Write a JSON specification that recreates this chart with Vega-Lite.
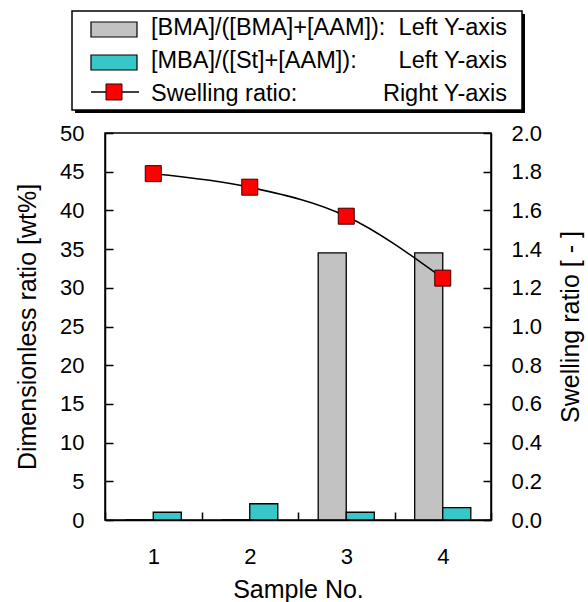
{
  "$schema": "https://vega.github.io/schema/vega-lite/v6.json",
  "padding": {"left": 14, "top": 10, "right": 0, "bottom": 0},
  "spacing": 8,
  "config": {
    "font": "Liberation Sans",
    "axis": {"labelFont": "Liberation Sans", "titleFont": "Liberation Sans", "labelColor": "black", "titleColor": "black", "domainColor": "black", "domainWidth": 1.5, "labelFontSize": 22, "titleFontSize": 25, "titleFontWeight": "normal", "grid": false},
    "text": {"font": "Liberation Sans"}
  },
  "datasets": {
    "bars": [
      {"sample": "1", "series": "BMA", "value": 0},
      {"sample": "1", "series": "MBA", "value": 1.0},
      {"sample": "2", "series": "BMA", "value": 0},
      {"sample": "2", "series": "MBA", "value": 2.1},
      {"sample": "3", "series": "BMA", "value": 34.5},
      {"sample": "3", "series": "MBA", "value": 1.0},
      {"sample": "4", "series": "BMA", "value": 34.5},
      {"sample": "4", "series": "MBA", "value": 1.6}
    ],
    "swelling": [
      {"sample": "1", "ratio": 1.79},
      {"sample": "2", "ratio": 1.72},
      {"sample": "3", "ratio": 1.57},
      {"sample": "4", "ratio": 1.25}
    ],
    "legend": [
      {"row": 1, "label": "[BMA]/([BMA]+[AAM]):", "note": "Left Y-axis"},
      {"row": 2, "label": "[MBA]/([St]+[AAM]):", "note": "Left Y-axis"},
      {"row": 3, "label": "Swelling ratio:", "note": "Right Y-axis"}
    ]
  },
  "vconcat": [
    {
      "width": 386,
      "height": 103,
      "view": {"stroke": null},
      "data": {"name": "legend"},
      "layer": [
        {
          "transform": [{"filter": "datum.row == 1"}],
          "mark": {"type": "rect", "fill": "black", "stroke": null},
          "encoding": {
            "x": {"datum": -7.77, "type": "quantitative", "scale": {"domain": [0, 100], "zero": false, "nice": false}, "axis": null},
            "x2": {"datum": 108.81},
            "y": {"datum": 0.576, "type": "quantitative", "scale": {"domain": [0.4545, 3.576], "reverse": true, "zero": false, "nice": false}, "axis": null},
            "y2": {"datum": 3.576}
          }
        },
        {
          "transform": [{"filter": "datum.row == 1"}],
          "mark": {"type": "rect", "fill": "white", "stroke": "black", "strokeWidth": 1.5},
          "encoding": {
            "x": {"datum": -8.55, "type": "quantitative"},
            "x2": {"datum": 108.03},
            "y": {"datum": 0.4848, "type": "quantitative"},
            "y2": {"datum": 3.485}
          }
        },
        {
          "mark": {"type": "text", "align": "left", "baseline": "middle", "fontSize": 23.5, "color": "black"},
          "encoding": {
            "x": {"datum": 11.92, "type": "quantitative"},
            "y": {"field": "row", "type": "quantitative"},
            "text": {"field": "label"}
          }
        },
        {
          "mark": {"type": "text", "align": "right", "baseline": "middle", "fontSize": 23.5, "color": "black"},
          "encoding": {
            "x": {"datum": 104.15, "type": "quantitative"},
            "y": {"field": "row", "type": "quantitative"},
            "text": {"field": "note"}
          }
        },
        {
          "transform": [{"filter": "datum.row == 1"}],
          "mark": {"type": "rect", "fill": "#c2c2c2", "stroke": "black", "strokeWidth": 1.2},
          "encoding": {
            "x": {"datum": -3.63, "type": "quantitative"},
            "x2": {"datum": 8.29},
            "y": {"datum": 0.818, "type": "quantitative"},
            "y2": {"datum": 1.273}
          }
        },
        {
          "transform": [{"filter": "datum.row == 2"}],
          "mark": {"type": "rect", "fill": "#36c8c8", "stroke": "black", "strokeWidth": 1.2},
          "encoding": {
            "x": {"datum": -3.63, "type": "quantitative"},
            "x2": {"datum": 8.29},
            "y": {"datum": 1.818, "type": "quantitative"},
            "y2": {"datum": 2.273}
          }
        },
        {
          "transform": [{"filter": "datum.row == 3"}],
          "mark": {"type": "rule", "color": "black", "strokeWidth": 1.5},
          "encoding": {
            "x": {"datum": -3.63, "type": "quantitative"},
            "x2": {"datum": 8.81},
            "y": {"datum": 2.939, "type": "quantitative"}
          }
        },
        {
          "transform": [{"filter": "datum.row == 3"}],
          "mark": {"type": "point", "shape": "square", "filled": true, "fill": "#ff0000", "stroke": "#3a0000", "strokeWidth": 1, "size": 256, "opacity": 1},
          "encoding": {
            "x": {"datum": 2.33, "type": "quantitative"},
            "y": {"datum": 2.939, "type": "quantitative"}
          }
        }
      ]
    },
    {
      "width": 386,
      "height": 387,
      "view": {"stroke": "black", "strokeWidth": 1.5},
      "layer": [
        {
          "data": {"name": "bars"},
          "mark": {"type": "bar", "stroke": "black", "strokeWidth": 1.3},
          "encoding": {
            "x": {"field": "sample", "type": "nominal", "scale": {"paddingInner": 0, "paddingOuter": 0},
                  "axis": {"title": "Sample No.", "labelAngle": 0, "tickBand": "extent", "tickColor": "black", "tickWidth": 1.5, "tickSize": -8, "labelPadding": 34, "titlePadding": 10, "zindex": 1}},
            "xOffset": {"field": "series", "scale": {"domain": ["BMA", "MBA"], "paddingInner": 0, "paddingOuter": 0.72}},
            "y": {"field": "value", "type": "quantitative", "scale": {"domain": [0, 50]},
                  "axis": {"title": "Dimensionless ratio [wt%]", "values": [0, 5, 10, 15, 20, 25, 30, 35, 40, 45, 50], "labelOverlap": false, "tickColor": "black", "tickWidth": 1.5, "tickSize": -8, "labelPadding": 29, "titlePadding": 19, "zindex": 1}},
            "fill": {"field": "series", "scale": {"domain": ["BMA", "MBA"], "range": ["#c2c2c2", "#36c8c8"]}, "legend": null}
          }
        },
        {
          "data": {"name": "swelling"},
          "layer": [
            {
              "mark": {"type": "line", "color": "black", "strokeWidth": 1.5, "interpolate": "monotone"},
              "encoding": {
                "x": {"field": "sample", "type": "nominal"},
                "y": {"field": "ratio", "type": "quantitative", "scale": {"domain": [0, 2]},
                      "axis": {"orient": "right", "title": "Swelling ratio  [ - ]", "values": [0, 0.2, 0.4, 0.6, 0.8, 1.0, 1.2, 1.4, 1.6, 1.8, 2.0], "format": ".1f", "labelOverlap": false, "tickColor": "black", "tickWidth": 1.5, "tickSize": -8, "labelPadding": 28, "titleAngle": -90, "titleBaseline": "top", "titlePadding": 17, "zindex": 1}}
              }
            },
            {
              "mark": {"type": "point", "shape": "square", "filled": true, "fill": "#ff0000", "stroke": "#3a0000", "strokeWidth": 1, "size": 256, "opacity": 1},
              "encoding": {
                "x": {"field": "sample", "type": "nominal"},
                "y": {"field": "ratio", "type": "quantitative",
                      "axis": {"orient": "right", "title": "Swelling ratio  [ - ]", "values": [0, 0.2, 0.4, 0.6, 0.8, 1.0, 1.2, 1.4, 1.6, 1.8, 2.0], "format": ".1f", "labelOverlap": false, "tickColor": "black", "tickWidth": 1.5, "tickSize": -8, "labelPadding": 28, "titleAngle": -90, "titleBaseline": "top", "titlePadding": 17, "zindex": 1}}
              }
            }
          ]
        }
      ],
      "resolve": {"scale": {"y": "independent"}}
    }
  ]
}
